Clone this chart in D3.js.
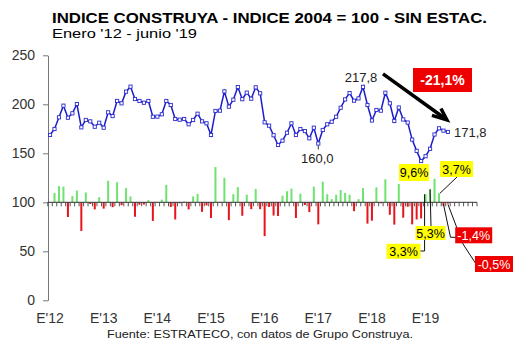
<!DOCTYPE html>
<html><head><meta charset="utf-8">
<script src="https://cdn.jsdelivr.net/npm/d3@7"></script>
<style>body{margin:0;background:#fff} svg{display:block} text{font-family:"Liberation Sans",Arial,sans-serif}</style>
</head><body><svg id="c" width="530" height="355"></svg>
<script>
// ---------- data ----------
const yearLabels = ["E'12","E'13","E'14","E'15","E'16","E'17","E'18","E'19"];
const axisMonths = 96; // Jan'12 .. Dec'19 category slots
const yTicks = [0,50,100,150,200,250];
const indexValues = [
 168.7,174.8,186.7,198.6,186.3,190.8,200.3,176.5,184.0,182.6,177.1,181.2,
 176.1,191.8,188.0,203.4,201.0,212.9,218.0,205.4,203.4,201.6,203.4,187.3,
 187.4,189.8,203.4,199.3,185.0,184.3,185.0,179.6,184.0,190.4,182.6,180.6,
 168.7,193.2,193.5,213.2,197.6,204.7,217.6,205.2,211.9,205.7,217.3,211.2,
 181.6,178.2,168.4,158.5,162.9,171.0,180.6,168.7,174.8,172.7,165.3,176.1,
 160.0,173.8,179.6,182.2,187.3,196.5,205.0,211.5,203.7,206.0,217.8,199.3,
 183.5,194.2,193.5,211.8,201.0,183.0,196.7,184.5,181.4,164.0,152.5,142.1,
 147.0,154.6,169.2,175.5,173.1,171.8];
const monthlyChange = [
 null,3.8,6.6,6.4,-6.0,2.5,4.8,-11.7,4.0,-0.7,-2.9,2.1,
 -2.6,8.8,-2.0,8.2,-1.2,5.8,2.4,-5.9,-1.0,-0.9,0.9,-7.6,
 0.2,1.1,7.1,-1.9,-7.0,-0.4,0.4,-2.9,2.4,3.4,-3.9,-1.3,
 -6.4,14.4,0.2,10.0,-7.3,3.3,6.2,-5.5,3.1,-2.8,5.4,-2.8,
 -13.8,-1.9,-5.4,-5.6,2.7,4.5,5.6,-6.4,3.5,-1.1,-4.0,6.4,
 -9.0,8.4,3.3,1.3,3.1,5.0,3.8,3.1,-3.6,1.3,5.8,-8.7,
 -7.5,6.1,-0.4,9.4,-5.1,-9.1,7.5,-6.3,-1.8,-9.0,-7.0,-6.6,
 3.3,5.3,9.6,3.7,-1.4,-0.5];
const valueLabels = [{i:60,text:"160,0"},{i:70,text:"217,8"},{i:89,text:"171,8"}];
const changeLabels = [
 {i:84,text:"3,3%"},{i:85,text:"5,3%"},{i:86,text:"9,6%"},
 {i:87,text:"3,7%"},{i:88,text:"-1,4%"},{i:89,text:"-0,5%"}];
const dropLabel = "-21,1%";

// ---------- scales ----------
const svg = d3.select("#c");
const x = d3.scaleBand().domain(d3.range(axisMonths)).range([47.8, 477]).paddingInner(0);
const cx = i => x(i) + x.bandwidth()/2;
const y = d3.scaleLinear().domain([0,250]).range([300.3,55.3]);
const pct = d3.scaleLinear().domain([-40,60]).range([y(0), y(250)]);

// titles
svg.append("text").attr("x",52).attr("y",23).attr("font-size",15).attr("font-weight","bold")
  .attr("textLength",435).attr("lengthAdjust","spacingAndGlyphs")
  .text("INDICE CONSTRUYA - INDICE 2004 = 100 - SIN ESTAC.");
svg.append("text").attr("x",52).attr("y",38).attr("font-size",13)
  .attr("textLength",145).attr("lengthAdjust","spacingAndGlyphs")
  .text("Enero '12 - junio '19");

// y axis
const ya = svg.append("g").attr("transform","translate(48,0)")
  .call(d3.axisLeft(y).tickValues(yTicks).tickSize(5).tickSizeOuter(0).tickPadding(8));
ya.select(".domain").attr("stroke","#777");
ya.selectAll(".tick line").attr("stroke","#777");
ya.selectAll(".tick text").attr("font-size",14).attr("fill","#333")
  .attr("font-family","'Liberation Sans',Arial,sans-serif");

// baseline category axis at 100
const base = y(100);
const bounds = d3.range(axisMonths+1).map(k => k===axisMonths ? x.range()[1] : x(k));
svg.append("g").selectAll("line").data(bounds).join("line")
  .attr("x1",d=>d).attr("x2",d=>d).attr("y1",base).attr("y2",base+4)
  .attr("stroke","#555").attr("stroke-width",1);

// bars
const bw = 2;
svg.append("g").selectAll("rect")
  .data(monthlyChange.map((v,i)=>({v,i})).filter(d=>d.v!==null)).join("rect")
  .attr("x",d=>cx(d.i)-bw/2).attr("width",bw)
  .attr("y",d=>Math.min(pct(d.v),pct(0))).attr("height",d=>Math.abs(pct(d.v)-pct(0)))
  .attr("fill",d=>d.v>=0?"#6fe36f":"#e8141c");

svg.append("line").attr("x1",x.range()[0]).attr("x2",x.range()[1]).attr("y1",base).attr("y2",base)
  .attr("stroke","#333").attr("stroke-width",1);

// x labels
svg.append("g").selectAll("text").data(yearLabels).join("text")
  .attr("x",(d,k)=>cx(k*12)).attr("y",323).attr("text-anchor","middle")
  .attr("font-size",14).attr("fill","#333").text(d=>d);

// line
const line = d3.line().x((d,i)=>cx(i)).y(d=>y(d));
svg.append("path").datum(indexValues).attr("d",line).attr("fill","none")
  .attr("stroke","#1c1ccc").attr("stroke-width",1.5);
svg.append("g").selectAll("rect").data(indexValues).join("rect")
  .attr("x",(d,i)=>cx(i)-1.6).attr("y",d=>y(d)-1.6).attr("width",3.2).attr("height",3.2)
  .attr("fill","#fff").attr("stroke","#2a2ad0").attr("stroke-width",0.9);

// value labels
const vl = {60:{dx:-1,dy:19,a:"middle"},70:{dx:-2,dy:-5,a:"middle"},89:{dx:6,dy:5,a:"start"}};
valueLabels.forEach(d=>{
  const o = vl[d.i];
  svg.append("text").attr("x",cx(d.i)+o.dx).attr("y",y(indexValues[d.i])+o.dy)
    .attr("text-anchor",o.a).attr("font-size",13).attr("fill","#222").text(d.text);
});
svg.append("line").attr("x1",cx(60)).attr("x2",cx(60)).attr("y1",y(160)+2).attr("y2",y(160)+6)
  .attr("stroke","#333");

// arrow
const ax0 = cx(70)+20, ay0 = y(217.8)-13, ax1 = cx(89)-1, ay1 = y(171.8)-12;
svg.append("line").attr("x1",ax0).attr("y1",ay0).attr("x2",ax1-3).attr("y2",ay1-2.2)
  .attr("stroke","#000").attr("stroke-width",3.5);
svg.append("path").attr("d",`M${ax1-15},${ay1-4.5} L${ax1},${ay1} L${ax1-6},${ay1-11.5}`)
  .attr("fill","none").attr("stroke","#000").attr("stroke-width",3.5).attr("stroke-linejoin","miter");

// boxes
function box(cxp, cyp, w, h, fill, txt, col, fs, bold){
  svg.append("rect").attr("x",cxp-w/2).attr("y",cyp-h/2).attr("width",w).attr("height",h).attr("fill",fill);
  svg.append("text").attr("x",cxp).attr("y",cyp+fs*0.36).attr("text-anchor","middle")
    .attr("font-size",fs).attr("font-weight",bold?"bold":"normal").attr("fill",col).text(txt);
}
box(442.5,80,59,24,"#ee0000",dropLabel,"#fff",14,true);

// leader lines (drawn before boxes)
const barTop = i => pct(monthlyChange[i]);
const lead = (pts)=>svg.append("polyline").attr("points",pts.map(p=>p.join(",")).join(" "))
  .attr("fill","none").attr("stroke","#111").attr("stroke-width",1);
lead([[420,251],[cx(84)-1,251],[cx(84)-1,barTop(84)]]);
lead([[431,226],[cx(85),barTop(85)]]);
lead([[457,177],[cx(87)+1,barTop(87)]]);
lead([[cx(88),base+2],[450.5,237.3],[456,237.3]]);
lead([[cx(89),base+2],[463,244],[476,264]]);

const lpos = {84:[403.5,251.3,34,15],85:[430.5,233,30,14],86:[414,172.5,30,17],
              87:[456.5,169,33,16],88:[473.7,235.3,37,16],89:[494,264,38,16]};
changeLabels.forEach(d=>{
  const p = lpos[d.i], neg = monthlyChange[d.i] < 0;
  box(p[0],p[1],p[2],p[3], neg?"#ee0000":"#ffff00", d.text, neg?"#fff":"#000", 12.5, false);
});

// footer
svg.append("text").attr("x",260).attr("y",338).attr("text-anchor","middle").attr("font-size",11)
  .attr("fill","#222").attr("textLength",306).attr("lengthAdjust","spacingAndGlyphs")
  .text("Fuente: ESTRATECO, con datos de Grupo Construya.");
</script></body></html>
